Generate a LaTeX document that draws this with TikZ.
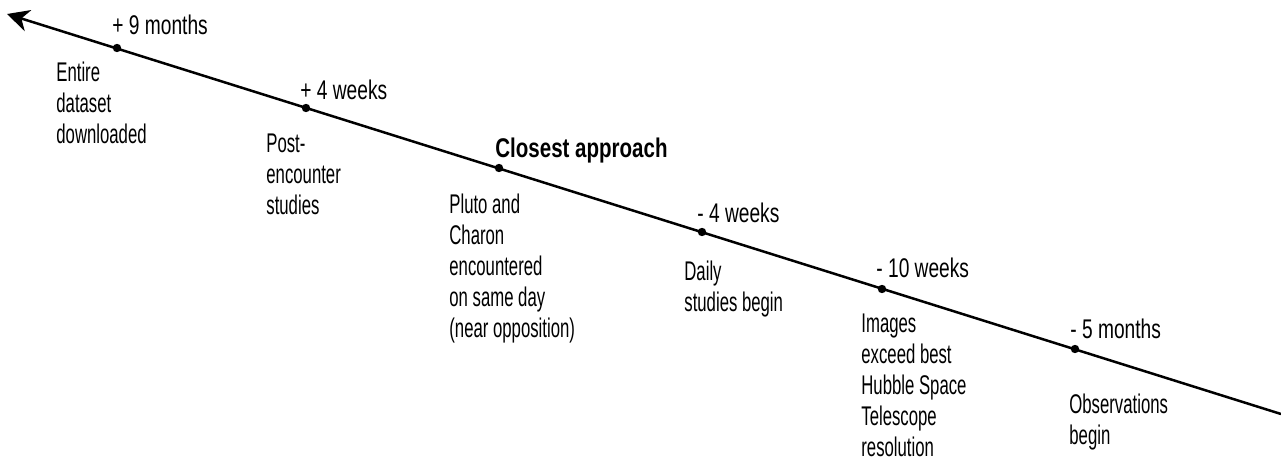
\documentclass[tikz,border=0pt]{standalone}
\usepackage{fontspec}
\setmainfont{Liberation Sans}[FakeStretch=0.62]
\newfontfamily\timefont{Liberation Sans}[FakeStretch=0.71]
\newfontfamily\headfont{Liberation Sans}[FakeStretch=0.76]
\usetikzlibrary{positioning,arrows.meta}

\begin{document}
\begin{tikzpicture}[x=0.5pt, y=-0.5pt, >={Stealth[length=11pt,width=11pt,inset=3.5pt]}]
        \tikzstyle{dot} = [circle, fill, inner sep=0pt, minimum size=4.2pt]
        \tikzstyle{when} = [anchor=base west, inner sep=0pt, font=\fontsize{13.5}{15.4}\timefont]
        \tikzstyle{what} = [anchor=north west, inner sep=0pt, align=left, font=\fontsize{13.5}{15.4}\selectfont]
        \useasboundingbox (0,0) rectangle (1281,460);
        \coordinate (now) at (1281,414);
        \coordinate (later) at (7,14);
        \draw[->, line width=1.25pt] (now) -- (later);
        % events on the timeline
        \node[dot] (dl) at (117,48) {};
        \node[dot] (post) at (306,108) {};
        \node[dot] (ca) at (499,168) {};
        \node[dot] (daily) at (702,232) {};
        \node[dot] (hst) at (882,289) {};
        \node[dot] (obs) at (1075,349) {};
        % times
        \node[when] (dlt) at (112,35) {+ 9 months};
        \node[when] (postt) at (300,100) {+ 4 weeks};
        \node[when, font=\fontsize{13.5}{15.4}\headfont\bfseries] (cat) at (495,158) {Closest approach};
        \node[when] (dailyt) at (697,222) {- 4 weeks};
        \node[when] (hstt) at (876,278) {- 10 weeks};
        \node[when] (obst) at (1070,338) {- 5 months};
        % what happens
        \node[what] (dld) at (56,62) {Entire\\dataset\\downloaded};
        \node[what] (postd) at (266,134) {Post-\\encounter\\studies};
        \node[what] (cad) at (449,194) {Pluto and\\Charon\\encountered\\on same day\\(near opposition)};
        \node[what] (dailyd) at (684,261) {Daily\\studies begin};
        \node[what] (hstd) at (861,314) {Images\\exceed best\\Hubble Space\\Telescope\\resolution};
        \node[what] (obsd) at (1069,394) {Observations\\begin};
    \end{tikzpicture}
\end{document}
